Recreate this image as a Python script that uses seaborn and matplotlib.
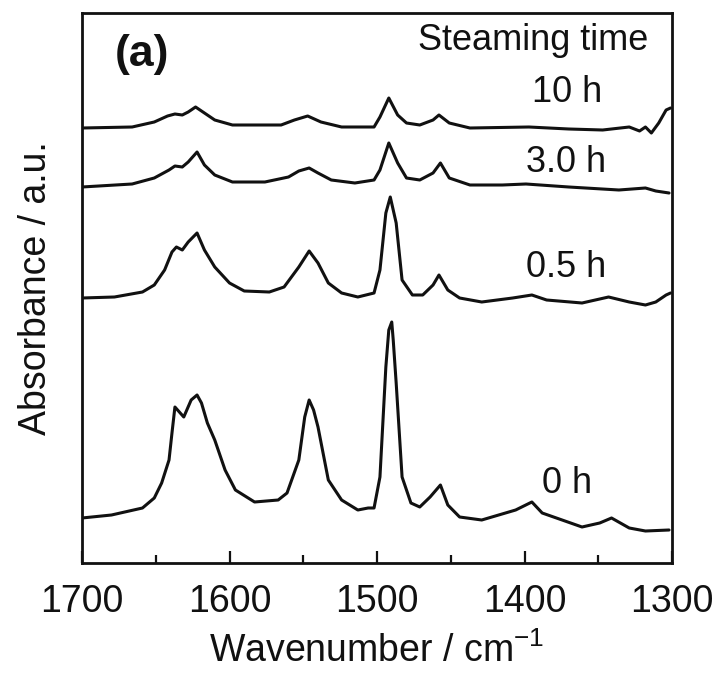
import numpy as np
import pandas as pd
import matplotlib
matplotlib.use("Agg")
import matplotlib.pyplot as plt
import seaborn as sns
from matplotlib.ticker import MultipleLocator

# ---- data (wavenumber / cm-1, displayed absorbance a.u. incl. offset) ----
wn_0h = [1700, 1680, 1659, 1651, 1646, 1641, 1639, 1637, 1634, 1631, 1626, 1622, 1619, 1615,
         1610, 1603, 1596, 1583, 1567, 1561, 1553, 1549, 1546, 1543, 1540, 1533, 1524, 1513,
         1506, 1502, 1498, 1494, 1492, 1490, 1489, 1487, 1483, 1477, 1471, 1464, 1457, 1452,
         1444, 1429, 1406, 1395, 1388, 1361, 1349, 1341, 1329, 1318, 1302]
ab_0h = [0.54, 0.57, 0.64, 0.74, 0.89, 1.12, 1.39, 1.65, 1.60, 1.55, 1.72, 1.77, 1.69, 1.49,
         1.32, 1.02, 0.82, 0.70, 0.72, 0.79, 1.12, 1.55, 1.72, 1.62, 1.45, 0.92, 0.72, 0.62,
         0.64, 0.64, 0.95, 2.05, 2.42, 2.50, 2.32, 1.89, 0.95, 0.69, 0.65, 0.75, 0.87, 0.67,
         0.55, 0.52, 0.62, 0.70, 0.59, 0.45, 0.49, 0.54, 0.44, 0.41, 0.42]

wn_05h = [1700, 1678, 1659, 1651, 1644, 1639, 1636, 1632, 1628, 1622, 1617, 1610, 1600, 1590,
          1573, 1563, 1553, 1546, 1540, 1533, 1524, 1513, 1502, 1498, 1494, 1491, 1487, 1483,
          1476, 1469, 1462, 1458, 1452, 1444, 1429, 1408, 1395, 1385, 1361, 1343, 1329, 1318,
          1311, 1304, 1301]
ab_05h = [2.74, 2.75, 2.80, 2.87, 3.02, 3.20, 3.25, 3.22, 3.30, 3.39, 3.22, 3.05, 2.89, 2.81,
          2.80, 2.85, 3.05, 3.21, 3.09, 2.89, 2.79, 2.75, 2.79, 3.02, 3.59, 3.75, 3.49, 2.92,
          2.77, 2.77, 2.87, 2.97, 2.82, 2.74, 2.70, 2.74, 2.77, 2.72, 2.69, 2.75, 2.70, 2.67,
          2.70, 2.77, 2.79]

wn_3h = [1700, 1666, 1651, 1641, 1637, 1632, 1628, 1622, 1617, 1610, 1598, 1576, 1560, 1553,
         1546, 1540, 1531, 1515, 1502, 1498, 1492, 1486, 1480, 1471, 1462, 1457, 1451, 1437,
         1415, 1399, 1370, 1336, 1318, 1311, 1302]
ab_3h = [3.85, 3.88, 3.94, 4.02, 4.06, 4.05, 4.10, 4.20, 4.07, 3.97, 3.90, 3.90, 3.95, 4.01,
         4.04, 3.99, 3.92, 3.89, 3.92, 4.02, 4.29, 4.09, 3.94, 3.92, 3.99, 4.09, 3.94, 3.87,
         3.87, 3.88, 3.85, 3.82, 3.84, 3.81, 3.79]

wn_10h = [1700, 1666, 1651, 1642, 1637, 1632, 1628, 1623, 1617, 1610, 1598, 1565, 1556, 1547,
          1538, 1524, 1502, 1498, 1492, 1486, 1480, 1471, 1462, 1458, 1451, 1437, 1397, 1370,
          1347, 1329, 1322, 1318, 1314, 1309, 1304, 1301]
ab_10h = [4.44, 4.45, 4.50, 4.56, 4.58, 4.57, 4.60, 4.65, 4.59, 4.52, 4.47, 4.47, 4.52, 4.56,
          4.50, 4.45, 4.45, 4.55, 4.74, 4.57, 4.49, 4.47, 4.52, 4.57, 4.49, 4.44, 4.45, 4.43,
          4.42, 4.45, 4.41, 4.45, 4.39, 4.49, 4.62, 4.64]

series_names = ["0 h", "0.5 h", "3.0 h", "10 h"]
x_ticks = [1700, 1600, 1500, 1400, 1300]

frames = []
for name, wn, ab in zip(series_names, [wn_0h, wn_05h, wn_3h, wn_10h], [ab_0h, ab_05h, ab_3h, ab_10h]):
    frames.append(pd.DataFrame({"wn": wn, "ab": ab, "time": name}))
df = pd.concat(frames, ignore_index=True)

# ---- style ----
sns.set_style("ticks")
plt.rcParams["font.family"] = ["Liberation Sans", "DejaVu Sans"]
plt.rcParams["mathtext.fontset"] = "custom"
plt.rcParams["mathtext.rm"] = "Liberation Sans"
plt.rcParams["mathtext.it"] = "Liberation Sans:italic"
plt.rcParams["mathtext.bf"] = "Liberation Sans:bold"
plt.rcParams["text.color"] = "#111111"
plt.rcParams["axes.labelcolor"] = "#111111"
plt.rcParams["xtick.color"] = "#111111"

fig = plt.figure(figsize=(7.18, 6.77), dpi=100)
ax = fig.add_axes([82 / 718, 1 - 563 / 677, (672 - 82) / 718, (563 - 13) / 677])

sns.lineplot(data=df, x="wn", y="ab", hue="time", units="time", estimator=None, sort=False,
             palette=["#111111"] * 4, linewidth=2.2, legend=False, ax=ax,
             solid_joinstyle="round", solid_capstyle="round")

ax.set_xlim(1700, 1300)
ax.set_ylim(0.09, 5.59)
ax.set_xticks(x_ticks)
ax.set_xticklabels([str(t) for t in x_ticks])
ax.xaxis.set_minor_locator(MultipleLocator(50))
ax.set_yticks([])
ax.tick_params(axis="x", which="major", direction="in", length=8.6, width=1.6,
               labelsize=27, pad=15, color="#111111", labelcolor="#111111")
ax.tick_params(axis="x", which="minor", direction="in", length=5.8, width=1.6, color="#111111")
for s in ax.spines.values():
    s.set_linewidth(2.0)
    s.set_color("#111111")

ax.set_xlabel("Wavenumber / cm$^{-1}$", fontsize=27, labelpad=9)
ax.set_ylabel("Absorbance / a.u.", fontsize=27, labelpad=20)

ax.text(0.055, 0.925, "(a)", transform=ax.transAxes, fontsize=32, fontweight="bold",
        ha="left", va="center")
ax.text(1316, 5.22, "Steaming time", fontsize=26, ha="right", va="baseline")
ax.text(1395, 4.70, "10 h", fontsize=26, ha="left", va="baseline")
ax.text(1399, 4.00, "3.0 h", fontsize=26, ha="left", va="baseline")
ax.text(1399, 2.95, "0.5 h", fontsize=26, ha="left", va="baseline")
ax.text(1388, 0.79, "0 h", fontsize=26, ha="left", va="baseline")

fig.savefig("out.png", dpi=100)
